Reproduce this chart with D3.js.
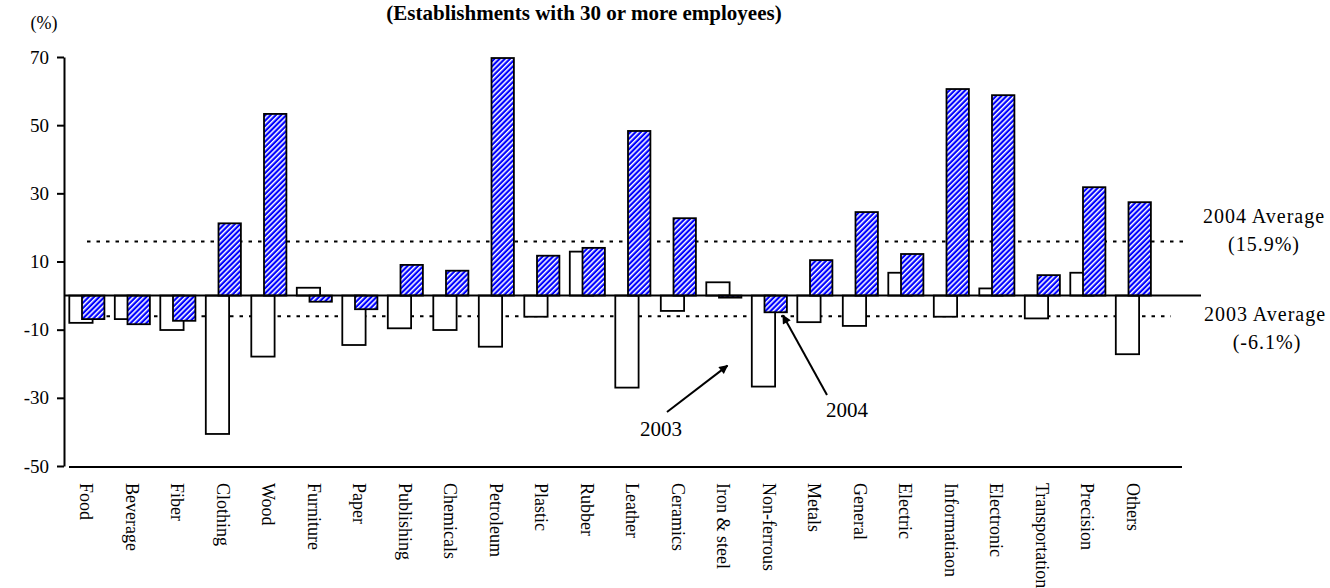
<!DOCTYPE html>
<html>
<head>
<meta charset="utf-8">
<script src="https://cdn.jsdelivr.net/npm/d3@7"></script>
<style>
  html, body { margin: 0; padding: 0; background: #fff; }
  svg { display: block; font-family: "Liberation Serif", "Times New Roman", serif; }
</style>
</head>
<body>
<svg id="chart" width="1330" height="588"></svg>
<script>
// Year-on-year change by industry (%), establishments with 30 or more employees
const categories = [
  "Food", "Beverage", "Fiber", "Clothing", "Wood", "Furniture", "Paper",
  "Publishing", "Chemicals", "Petroleum", "Plastic", "Rubber", "Leather",
  "Ceramics", "Iron & steel", "Non-ferrous", "Metals", "General", "Electric",
  "Informatiaon", "Electronic", "Transportation", "Precision", "Others"
];
const growth2003 = [
  -8.0, -6.9, -10.1, -40.6, -17.9, 2.3, -14.5,
  -9.6, -10.1, -15.0, -6.2, 12.9, -27.0,
  -4.5, 3.9, -26.7, -7.8, -8.9, 6.7,
  -6.2, 2.1, -6.7, 6.7, -17.2
];
const growth2004 = [
  -6.9, -8.4, -7.4, 21.2, 53.3, -1.8, -4.0,
  9.0, 7.3, 69.7, 11.7, 14.0, 48.3,
  22.7, -0.6, -4.9, 10.4, 24.5, 12.2,
  60.6, 58.8, 6.0, 31.8, 27.4
];
const yTicks = [70, 50, 30, 10, -10, -30, -50];
const average2003 = -6.1;
const average2004 = 15.9;
const titleText = "(Establishments with 30 or more employees)";

const svg = d3.select("#chart");

const x = d3.scaleBand()
  .domain(categories)
  .range([64, 64 + 45.5 * categories.length])
  .padding(0);
const y = d3.scaleLinear().domain([-50, 70]).range([466, 57]);

// Bar geometry inside each category band (2004 bar overlaps the 2003 bar)
const w2003 = 23.3, off2003 = 5.3;
const w2004 = 22.4, off2004 = 18;

// Blue fill with white upward diagonal stripes
const defs = svg.append("defs");
const hatch = defs.append("pattern")
  .attr("id", "hatch")
  .attr("patternUnits", "userSpaceOnUse")
  .attr("width", 3.7).attr("height", 3.7)
  .attr("patternTransform", "rotate(45)");
hatch.append("rect").attr("width", 3.7).attr("height", 3.7).attr("fill", "#0000ff");
hatch.append("rect").attr("width", 1.5).attr("height", 3.7).attr("fill", "#ffffff");

defs.append("marker")
  .attr("id", "arrowhead")
  .attr("viewBox", "0 0 10 10")
  .attr("refX", 9).attr("refY", 5)
  .attr("markerWidth", 6.5).attr("markerHeight", 4.5)
  .attr("markerUnits", "strokeWidth")
  .attr("orient", "auto")
  .append("path").attr("d", "M0,0 L10,5 L0,10 Z").attr("fill", "#000");

// Title
svg.append("text")
  .attr("x", 584).attr("y", 20)
  .attr("text-anchor", "middle")
  .attr("font-size", 21).attr("font-weight", "bold")
  .text(titleText);

// Unit label
svg.append("text")
  .attr("x", 44).attr("y", 29)
  .attr("text-anchor", "middle")
  .attr("font-size", 18)
  .text("(%)");

// Y axis
const yAxis = svg.append("g")
  .attr("transform", `translate(${x.range()[0]},0)`)
  .call(d3.axisLeft(y)
    .tickValues(yTicks)
    .tickFormat(d => String(d))
    .tickSize(7).tickSizeOuter(0).tickPadding(8));
yAxis.select(".domain").attr("stroke", "#000").attr("stroke-width", 2);
yAxis.selectAll(".tick line").attr("stroke", "#000").attr("stroke-width", 2);
yAxis.selectAll(".tick text")
  .attr("font-family", "Liberation Serif, Times New Roman, serif")
  .attr("font-size", 19).attr("fill", "#000");

// Bottom category line
svg.append("line")
  .attr("x1", x.range()[0] + 5).attr("x2", x.range()[1] + 26)
  .attr("y1", y(-50) + 1).attr("y2", y(-50) + 1)
  .attr("stroke", "#000").attr("stroke-width", 2);

// Average reference lines
svg.append("line")
  .attr("x1", x(categories[0]) + 23).attr("x2", x.range()[1] + 27)
  .attr("y1", y(average2004)).attr("y2", y(average2004))
  .attr("stroke", "#000").attr("stroke-width", 2)
  .attr("stroke-dasharray", "3.5,6");
svg.append("line")
  .attr("x1", x(categories[0]) + 14).attr("x2", x.range()[1] + 15)
  .attr("y1", y(average2003)).attr("y2", y(average2003))
  .attr("stroke", "#000").attr("stroke-width", 2)
  .attr("stroke-dasharray", "3.5,6");

// Bars
const rows = categories.map((c, i) => ({ c, v3: growth2003[i], v4: growth2004[i] }));
const groups = svg.append("g").selectAll("g").data(rows).join("g");

groups.append("rect")
  .attr("x", d => x(d.c) + off2003)
  .attr("width", w2003)
  .attr("y", d => y(Math.max(0, d.v3)))
  .attr("height", d => Math.abs(y(d.v3) - y(0)))
  .attr("fill", "#fff").attr("stroke", "#000").attr("stroke-width", 1.8);

groups.append("rect")
  .attr("x", d => x(d.c) + off2004)
  .attr("width", w2004)
  .attr("y", d => y(Math.max(0, d.v4)))
  .attr("height", d => Math.abs(y(d.v4) - y(0)))
  .attr("fill", "url(#hatch)").attr("stroke", "#000").attr("stroke-width", 1.8);

// Zero line
svg.append("line")
  .attr("x1", x.range()[0]).attr("x2", x.range()[1] + 45)
  .attr("y1", y(0)).attr("y2", y(0))
  .attr("stroke", "#000").attr("stroke-width", 2);

// Category labels, rotated to read downward
svg.append("g").selectAll("text").data(categories).join("text")
  .attr("transform", c => `translate(${x(c) + x.bandwidth() / 2},483) rotate(90)`)
  .attr("dy", "0.35em")
  .attr("font-size", 18)
  .text(c => c);

// Average labels
const fmtAvg = v => `(${v.toFixed(1)}%)`;
const avgLabel = (txt, cx, by) => svg.append("text")
  .attr("x", cx).attr("y", by)
  .attr("text-anchor", "middle")
  .attr("font-size", 20).attr("letter-spacing", 1)
  .text(txt);
avgLabel("2004 Average", 1264, 223);
avgLabel(fmtAvg(average2004), 1264, 251);
avgLabel("2003 Average", 1265, 321);
avgLabel(fmtAvg(average2003), 1267, 349);

// Year callouts pointing at the Non-ferrous bars
const nf = categories.indexOf("Non-ferrous");
const nfX = x(categories[nf]);
const tip2004 = [nfX + off2004 + w2004 - 4, y(growth2004[nf]) + 3];
const tip2003 = [nfX - 19, y(growth2003[nf]) - 21];

svg.append("line")
  .attr("x1", 827).attr("y1", 395)
  .attr("x2", tip2004[0]).attr("y2", tip2004[1])
  .attr("stroke", "#000").attr("stroke-width", 2)
  .attr("marker-end", "url(#arrowhead)");
svg.append("line")
  .attr("x1", 667).attr("y1", 412)
  .attr("x2", tip2003[0]).attr("y2", tip2003[1])
  .attr("stroke", "#000").attr("stroke-width", 2)
  .attr("marker-end", "url(#arrowhead)");

svg.append("text").attr("x", 847).attr("y", 417)
  .attr("text-anchor", "middle").attr("font-size", 21).text("2004");
svg.append("text").attr("x", 661).attr("y", 436)
  .attr("text-anchor", "middle").attr("font-size", 21).text("2003");
</script>
</body>
</html>
